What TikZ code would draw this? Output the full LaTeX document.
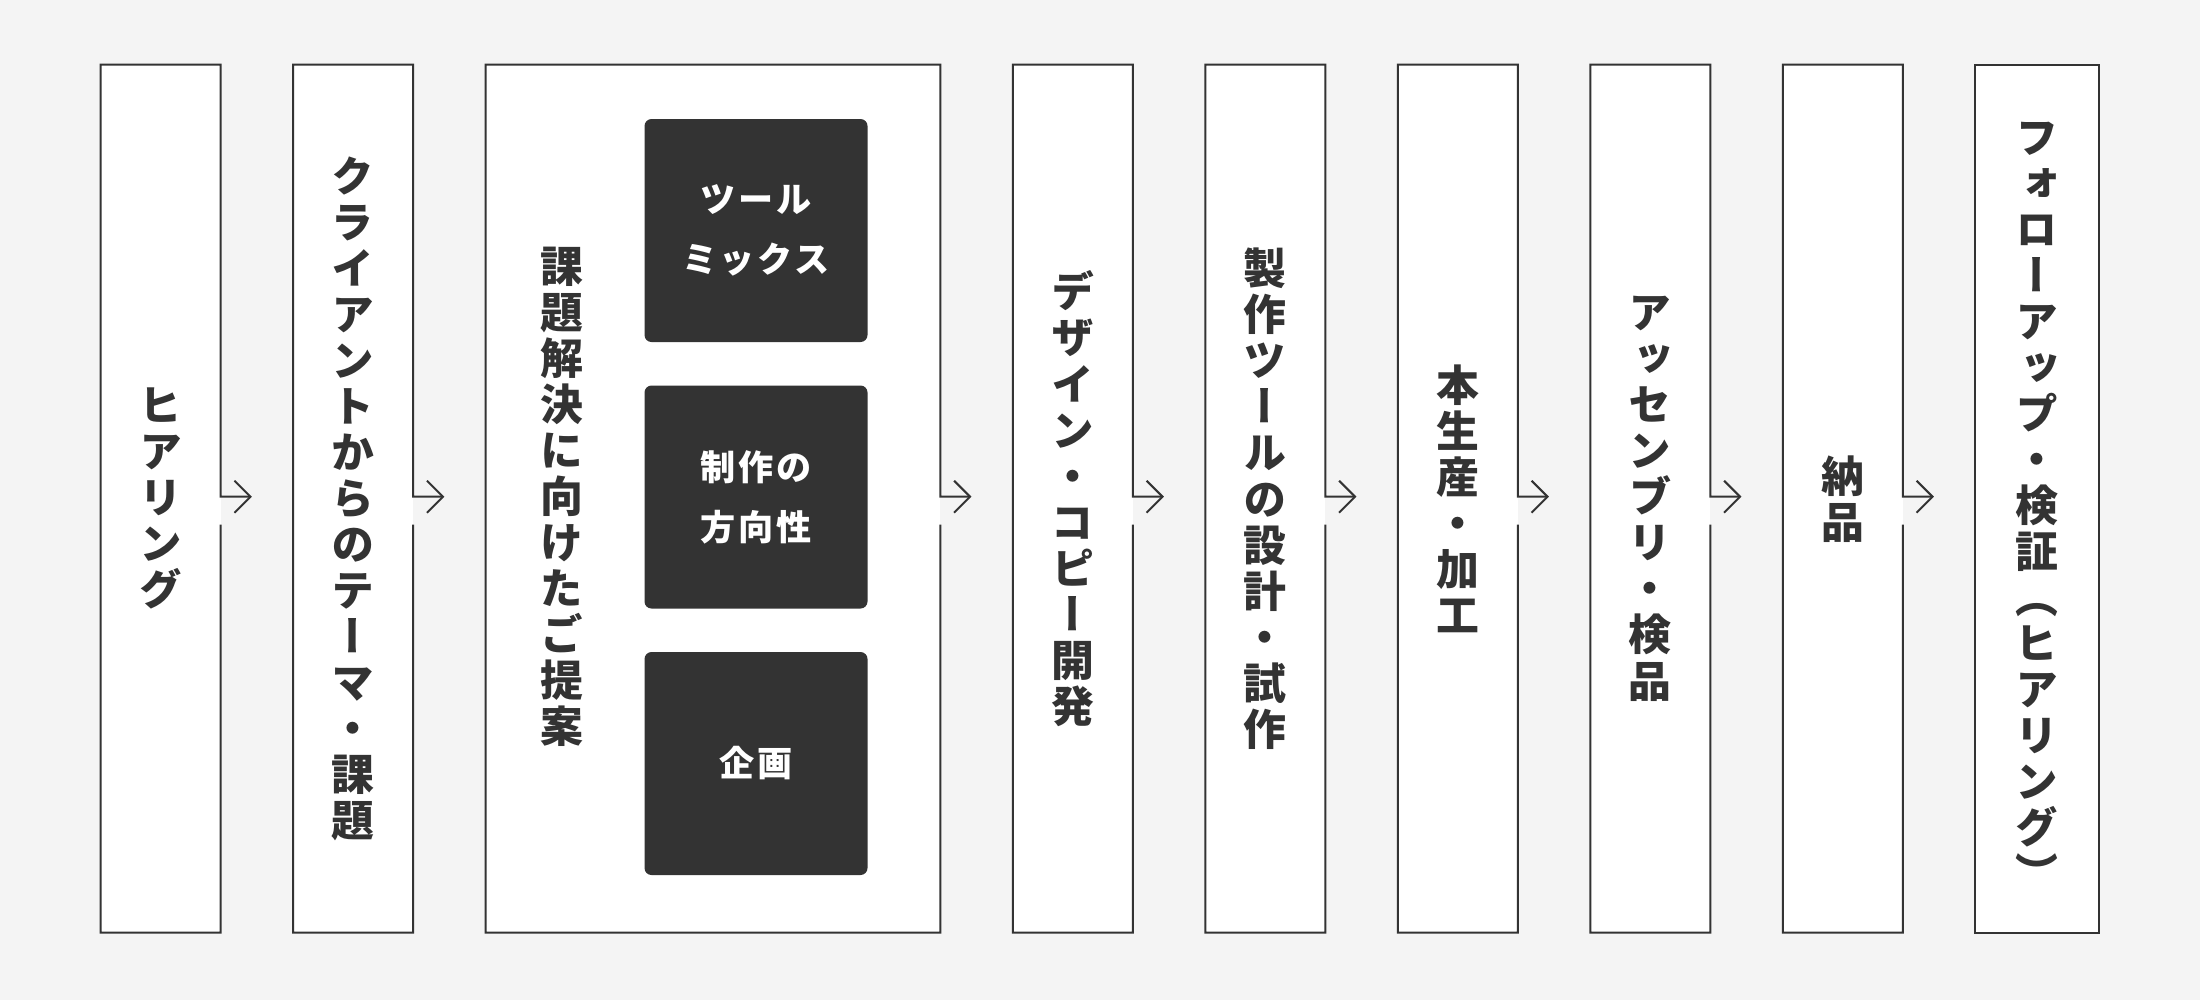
\documentclass[tikz,border=0pt]{standalone}
\usepackage{fontspec}
\setmainfont{Noto Sans CJK JP}
\newfontfamily\tatefont{Noto Sans CJK JP}[RawFeature=+vert]
\newfontfamily\yokofont{Noto Sans CJK JP}[LetterSpace=8]
\usetikzlibrary{arrows.meta,positioning,calc}
\definecolor{fcink}{HTML}{333333}
\definecolor{fcback}{HTML}{F4F4F4}
\makeatletter
\newcommand\tate[1]{\vbox{\lineskiplimit=-\maxdimen
  \@tfor\tate@c:=#1\do{\hbox to 1em{\hss\tate@c\hss}}}}
\makeatother
\tikzset{
  flowBox/.style={fill=white, inner sep=0pt, outer sep=0pt, minimum width=12mm, minimum height=86.8mm, text=fcink, font=\tatefont\bfseries\fontsize{12.2}{13.1}\selectfont},
  ideaBox/.style={fill=fcink, rounded corners=0.7mm, minimum size=22.3mm, inner sep=0pt, text=white, align=center, font=\yokofont\bfseries\fontsize{10}{17}\selectfont},
  flowLine/.style={draw=fcink, line width=0.57pt, line join=miter},
  flowArrow/.style={flowLine, -{Straight Barb[length=1.6mm,width=3.2mm]}}
}

\begin{document}
\begin{tikzpicture}[x=0.1mm,y=-0.1mm]
  \fill[fcback] (0,0) rectangle (2200,1000);
  \useasboundingbox (0,0) rectangle (2200,1000);
  % steps
  \node[flowBox] (hear) at (160.7,498.7) {\tate{ヒアリング}};
  \node[flowBox, right=7.25mm of hear] (theme) {\tate{クライアントからのテーマ・課題}};
  \node[flowBox, right=7.25mm of theme, minimum width=45.46mm] (plan) {};
  \node[flowBox, right=7.25mm of plan] (design) {\tate{デザイン・コピー開発}};
  \node[flowBox, right=7.25mm of design] (tooling) {\tate{製作ツールの設計・試作}};
  \node[flowBox, right=7.25mm of tooling] (mass) {\tate{本生産・加工}};
  \node[flowBox, right=7.25mm of mass] (assembly) {\tate{アッセンブリ・検品}};
  \node[flowBox, right=7.25mm of assembly] (deliver) {\tate{納品}};
  \node[flowBox, right=7.25mm of deliver, minimum width=12.4mm] (follow) {};
  % texts off the box centre
  \node[flowBox, fill=none, minimum size=0pt] (planText) at (562,497) {\tate{課題解決に向けたご提案}};
  \node[flowBox, fill=none, minimum size=0pt] (followText) at ($(follow.center)+(0,7)$) {\tate{フォローアップ・検証（ヒアリング）}};
  % proposal contents
  \node[ideaBox] (mix) at (756,230.5) {ツール\\ミックス};
  \node[ideaBox] (direction) at (756,497) {制作の\\方向性};
  \node[ideaBox] (kikaku) at (756,763.5) {企画};
  % borders with arrows
  \foreach \a/\b in {hear/theme,theme/plan,plan/design,design/tooling,tooling/mass,mass/assembly,assembly/deliver,deliver/follow} {
    \draw[flowArrow] ($(\a.east)+(0,26)$) -- (\a.south east) -- (\a.south west) -- (\a.north west)
      -- (\a.north east) -- ($(\a.east)+(0,-2)$) -- ($(\a.east)!0.43!(\b.west)+(0,-2)$);
  }
  \draw[flowLine] (follow.north west) rectangle (follow.south east);
\end{tikzpicture}
\end{document}
